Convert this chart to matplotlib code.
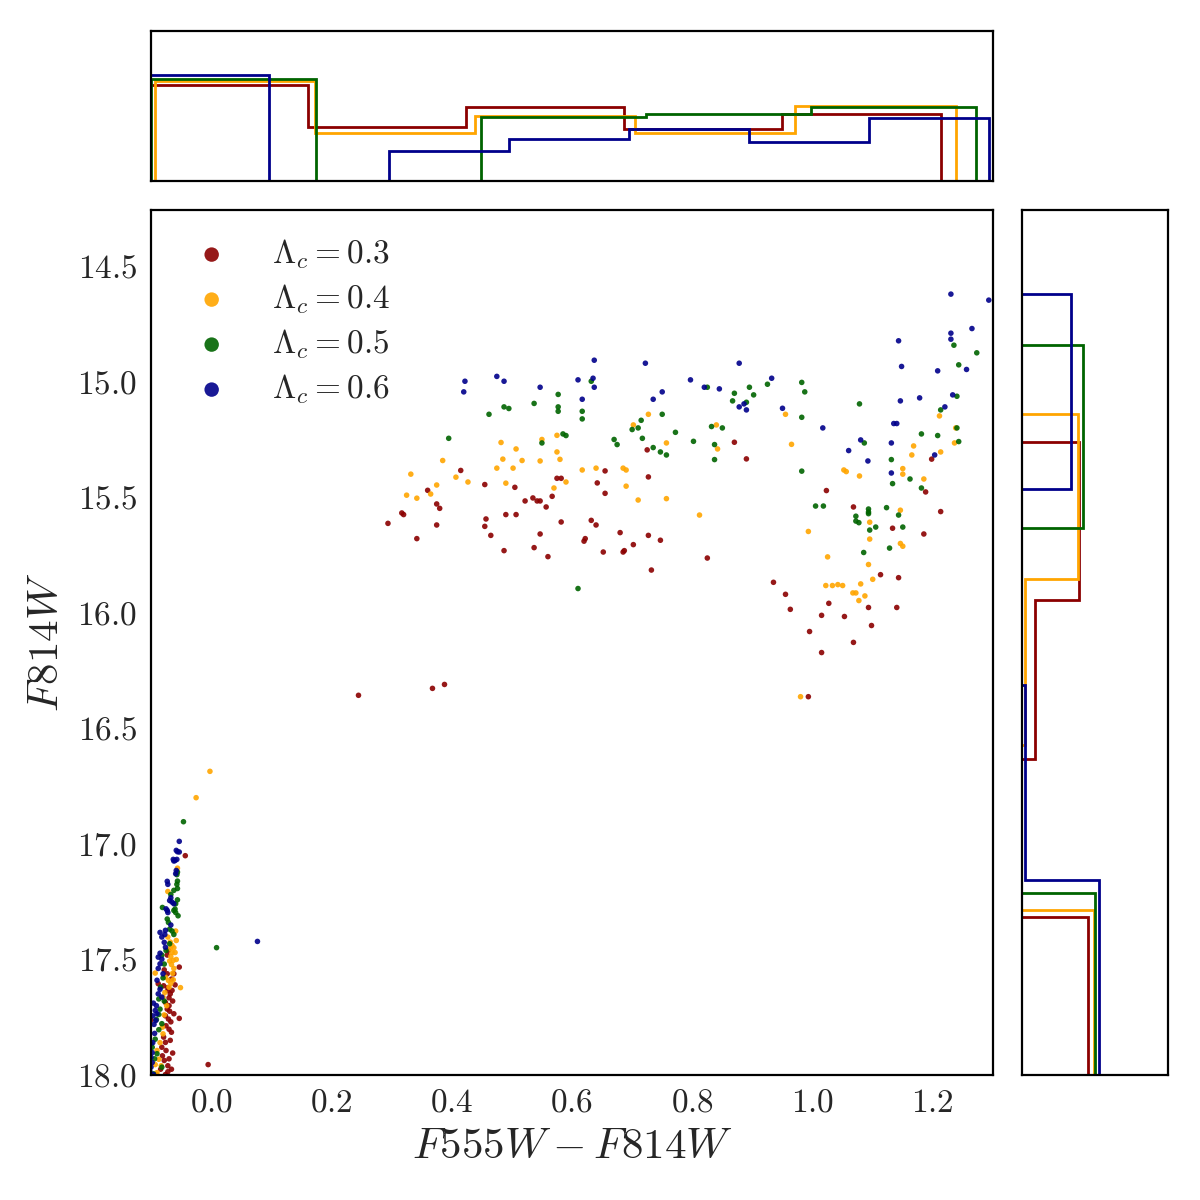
import numpy as np
import matplotlib
matplotlib.use("Agg")
import matplotlib.pyplot as plt

# series labels and colours
labels = [r"$\Lambda_c = 0.3$", r"$\Lambda_c = 0.4$", r"$\Lambda_c = 0.5$", r"$\Lambda_c = 0.6$"]
colors = ["darkred", "orange", "darkgreen", "darkblue"]

# (F555W-F814W, F814W), one list per series
red_stars = [
    (0.294, 15.613), (0.317, 15.568), (0.320, 15.575), (0.342, 15.679), (0.360, 15.470), (0.375, 15.529),
    (0.380, 15.548), (0.375, 15.620), (0.415, 15.384), (0.455, 15.445), (0.457, 15.594), (0.455, 15.626),
    (0.465, 15.665), (0.487, 15.731), (0.490, 15.575), (0.507, 15.575), (0.505, 15.457),
    (0.522, 15.516), (0.535, 15.503), (0.542, 15.516), (0.547, 15.516), (0.557, 15.542), (0.567, 15.496),
    (0.575, 15.418), (0.582, 15.418), (0.582, 15.607), (0.547, 15.659), (0.537, 15.718), (0.560, 15.757),
    (0.655, 15.386), (0.642, 15.438), (0.655, 15.483), (0.632, 15.600), (0.640, 15.620), (0.620, 15.690),
    (0.622, 15.679), (0.652, 15.737), (0.680, 15.653), (0.685, 15.737), (0.687, 15.731), (0.702, 15.705),
    (0.727, 15.412), (0.725, 15.295), (0.727, 15.665), (0.747, 15.686), (0.732, 15.815), (0.825, 15.763),
    (0.870, 15.262), (0.890, 15.334), (1.023, 15.471), (1.198, 15.335), (1.188, 15.477),
    (1.068, 15.542), (1.213, 15.562), (1.133, 15.634), (1.185, 15.659), (1.113, 15.835), (1.143, 15.848),
    (0.935, 15.868), (0.955, 15.920), (0.963, 15.985), (1.027, 15.959), (1.015, 16.011), (1.053, 16.016),
    (1.093, 15.977), (1.140, 15.977), (1.098, 16.055), (0.995, 16.081), (1.068, 16.128), (1.015, 16.172),
    (0.993, 16.363), (0.245, 16.357), (0.368, 16.327), (0.388, 16.310),
    (-0.043, 17.051), (-0.073, 17.481), (-0.071, 17.461), (-0.053, 17.533), (-0.078, 17.545), (-0.073, 17.562),
    (-0.062, 17.562), (-0.088, 17.605), (-0.079, 17.614), (-0.072, 17.622), (-0.072, 17.634), (-0.068, 17.649),
    (-0.065, 17.634), (-0.070, 17.666), (-0.076, 17.686), (-0.070, 17.700), (-0.073, 17.715), (-0.069, 17.724),
    (-0.076, 17.744), (-0.071, 17.758), (-0.067, 17.770), (-0.075, 17.787), (-0.070, 17.802), (-0.053, 17.755),
    (-0.100, 17.761), (-0.079, 17.836), (-0.076, 17.859), (-0.082, 17.880), (-0.075, 17.894), (-0.081, 17.917),
    (-0.078, 17.937), (-0.072, 17.960), (-0.005, 17.955), (-0.091, 17.998), (-0.076, 17.998), (-0.072, 17.986),
    (-0.066, 17.585), (-0.060, 17.610), (-0.064, 17.680), (-0.062, 17.735), (-0.066, 17.815), (-0.068, 17.850),
    (-0.064, 17.905), (-0.070, 17.930), (-0.084, 17.975), (-0.066, 17.975),
]
orange_stars = [
    (0.332, 15.400), (0.325, 15.491), (0.342, 15.504), (0.365, 15.486), (0.375, 15.447), (0.385, 15.341),
    (0.407, 15.413), (0.427, 15.434), (0.482, 15.263), (0.485, 15.335), (0.475, 15.374), (0.502, 15.374),
    (0.507, 15.291), (0.490, 15.439),
    (0.517, 15.341), (0.550, 15.250), (0.547, 15.343), (0.575, 15.232), (0.575, 15.304), (0.580, 15.336),
    (0.570, 15.460), (0.590, 15.434), (0.617, 15.382), (0.640, 15.374), (0.685, 15.374), (0.690, 15.382),
    (0.690, 15.452), (0.710, 15.512), (0.757, 15.506), (0.757, 15.265), (0.727, 15.141), (0.702, 15.187),
    (0.812, 15.577), (0.840, 15.187), (0.842, 15.291),
    (0.955, 15.141), (0.965, 15.271), (1.052, 15.382), (1.056, 15.389), (1.078, 15.408), (1.150, 15.376),
    (1.150, 15.400), (1.168, 15.278), (1.165, 15.317), (1.185, 15.421), (1.213, 15.304), (1.211, 15.148),
    (1.238, 15.200), (1.236, 15.265),
    (1.146, 15.556), (1.095, 15.608), (0.993, 15.648), (1.095, 15.681), (1.146, 15.700), (1.150, 15.712),
    (1.025, 15.758), (1.093, 15.791), (1.100, 15.855), (1.080, 15.875), (1.022, 15.882), (1.033, 15.882),
    (1.042, 15.878), (1.050, 15.882), (1.067, 15.914), (1.072, 15.914), (1.087, 15.927), (1.077, 15.947),
    (0.980, 16.363),
    (-0.002, 16.686), (-0.025, 16.800), (-0.056, 17.105), (-0.072, 17.206), (-0.059, 17.377), (-0.072, 17.403),
    (-0.058, 17.418), (-0.068, 17.425), (-0.065, 17.439), (-0.062, 17.449), (-0.068, 17.452), (-0.065, 17.470),
    (-0.067, 17.487), (-0.063, 17.504), (-0.069, 17.507), (-0.066, 17.522), (-0.062, 17.539), (-0.093, 17.559),
    (-0.076, 17.577), (-0.071, 17.591), (-0.067, 17.603), (-0.063, 17.588), (-0.051, 17.622), (-0.077, 17.643),
    (-0.080, 17.663), (-0.081, 17.793), (-0.080, 17.822), (-0.090, 17.894), (-0.087, 17.932), (-0.093, 17.955),
    (-0.090, 17.990), (-0.060, 17.470), (-0.058, 17.500), (-0.064, 17.560), (-0.070, 17.620), (-0.074, 17.700),
    (-0.078, 17.740), (-0.085, 17.860), (-0.083, 17.960),
]
green_stars = [
    (0.462, 15.141), (0.487, 15.109), (0.495, 15.116), (0.395, 15.245),
    (0.577, 15.055), (0.537, 15.094), (0.577, 15.109), (0.577, 15.128), (0.632, 14.998), (0.617, 15.128),
    (0.617, 15.161), (0.585, 15.226), (0.590, 15.233), (0.550, 15.265), (0.670, 15.250), (0.675, 15.272),
    (0.715, 15.167), (0.700, 15.207), (0.710, 15.200), (0.750, 15.141), (0.717, 15.245), (0.735, 15.285),
    (0.747, 15.304), (0.757, 15.317), (0.772, 15.219), (0.802, 15.258), (0.825, 15.024), (0.832, 15.194),
    (0.850, 15.200), (0.837, 15.272), (0.837, 15.337), (0.870, 15.050), (0.867, 15.083), (0.610, 15.895),
    (0.895, 15.024), (0.902, 15.057), (0.890, 15.089), (0.925, 15.011), (0.982, 15.003), (0.987, 15.044),
    (0.982, 15.154), (0.982, 15.387), (1.078, 15.096), (1.086, 15.265), (1.131, 15.337), (1.133, 15.441),
    (1.162, 15.421), (1.181, 15.460), (1.181, 15.226), (1.208, 15.233), (1.213, 15.122), (1.240, 15.063),
    (1.235, 14.842), (1.243, 14.927), (1.273, 14.875), (1.240, 15.200), (1.243, 15.259),
    (1.005, 15.538), (1.018, 15.538), (1.093, 15.551), (1.093, 15.564), (1.093, 15.571), (1.123, 15.545),
    (1.143, 15.577), (1.072, 15.582), (1.072, 15.603), (1.077, 15.610), (1.105, 15.629), (1.095, 15.642),
    (1.150, 15.629), (1.128, 15.720), (1.085, 15.739),
    (0.009, 17.449), (-0.046, 16.904), (-0.056, 17.122), (-0.057, 17.133), (-0.056, 17.161), (-0.057, 17.175),
    (-0.062, 17.201), (-0.067, 17.219), (-0.056, 17.193), (-0.056, 17.242), (-0.059, 17.259), (-0.060, 17.282),
    (-0.081, 17.275), (-0.062, 17.288), (-0.059, 17.297), (-0.055, 17.311), (-0.073, 17.325), (-0.071, 17.340),
    (-0.065, 17.377), (-0.062, 17.392), (-0.069, 17.369), (-0.069, 17.432), (-0.082, 17.481), (-0.075, 17.461),
    (-0.087, 17.671), (-0.078, 17.680), (-0.085, 17.715), (-0.087, 17.738), (-0.082, 17.778), (-0.087, 17.804),
    (-0.100, 17.865), (-0.098, 17.880), (-0.093, 17.845), (-0.090, 17.908), (-0.082, 17.966), (-0.096, 17.995),
    (-0.078, 17.520), (-0.080, 17.580), (-0.084, 17.620), (-0.091, 17.760), (-0.094, 17.930),
]
blue_stars = [
    (0.422, 14.998), (0.420, 15.044), (0.475, 14.977), (0.487, 14.998),
    (0.637, 14.907), (0.722, 14.920), (0.610, 14.992), (0.635, 14.985), (0.637, 15.024), (0.547, 15.024),
    (0.617, 15.076), (0.750, 15.044), (0.735, 15.076), (0.797, 14.992), (0.820, 15.024), (0.845, 15.031),
    (0.878, 14.920), (0.878, 15.109),
    (1.230, 14.621), (1.293, 14.647), (1.265, 14.770), (1.230, 14.790), (1.230, 14.816), (1.143, 14.823),
    (1.148, 14.934), (1.208, 14.953), (1.256, 14.947), (1.146, 15.083), (1.178, 15.070), (1.233, 15.057),
    (1.220, 15.109), (1.135, 15.181), (1.140, 15.181), (1.131, 15.265), (1.080, 15.252), (1.060, 15.298),
    (1.092, 15.343), (1.131, 15.395), (1.203, 15.317), (1.017, 15.200), (0.950, 15.115), (0.932, 14.985),
    (0.886, 15.096), (0.890, 15.122),
    (0.077, 17.422), (-0.053, 16.989), (-0.058, 17.028), (-0.056, 17.034), (-0.053, 17.035), (-0.063, 17.067),
    (-0.060, 17.072), (-0.057, 17.067), (-0.062, 17.074), (-0.058, 17.115), (-0.059, 17.129), (-0.073, 17.162),
    (-0.072, 17.175), (-0.067, 17.233), (-0.069, 17.245), (-0.065, 17.252), (-0.062, 17.259), (-0.075, 17.281),
    (-0.072, 17.297), (-0.073, 17.288), (-0.067, 17.351), (-0.076, 17.374), (-0.085, 17.383), (-0.082, 17.403),
    (-0.077, 17.392), (-0.078, 17.426), (-0.076, 17.447), (-0.085, 17.473), (-0.088, 17.490), (-0.082, 17.499),
    (-0.085, 17.519), (-0.088, 17.539), (-0.080, 17.562), (-0.085, 17.629), (-0.088, 17.649), (-0.082, 17.663),
    (-0.096, 17.689), (-0.091, 17.700), (-0.093, 17.721), (-0.090, 17.735), (-0.097, 17.744), (-0.092, 17.764),
    (-0.095, 17.781), (-0.098, 17.903), (-0.100, 17.923), (-0.098, 17.946), (-0.100, 17.966), (-0.102, 17.984),
    (-0.096, 17.998), (-0.090, 17.590), (-0.094, 17.820), (-0.097, 17.860),
]

# marginal histograms (counts per bin, log axes) and the data range each was binned over
colour_range = [(-0.102, 1.213), (-0.094, 1.238), (-0.100, 1.272), (-0.103, 1.293)]
colour_counts = [
    [82, 12, 30, 11, 22],
    [99, 9, 20, 9, 32],
    [112, 0, 19, 22, 30],
    [129, 0, 4, 7, 11, 6, 18],
]
mag_range = [(15.262, 18.0), (15.141, 18.0), (14.842, 18.0), (14.621, 18.0)]
mag_counts = [
    [60, 15, 1, 80],
    [59, 11, 4, 98],
    [69, 3, 7, 101],
    [47, 0, 11, 112],
]

plt.rcParams.update({
    "font.family": "serif",
    "font.serif": ["cmr10", "DejaVu Serif"],
    "mathtext.fontset": "cm",
    "axes.formatter.use_mathtext": True,
    "axes.unicode_minus": False,
    "text.color": "#262626",
    "xtick.color": "#262626",
    "ytick.color": "#262626",
    "axes.labelcolor": "#262626",
    "xtick.major.size": 0, "ytick.major.size": 0,
    "xtick.minor.size": 0, "ytick.minor.size": 0,
    "axes.linewidth": 0.8,
})

fig = plt.figure(figsize=(6, 6), dpi=200)
ax = fig.add_axes([151 / 1200, 125 / 1200, 842 / 1200, 865 / 1200])
ax_top = fig.add_axes([151 / 1200, 1019 / 1200, 842 / 1200, 150 / 1200], sharex=ax)
ax_right = fig.add_axes([1022 / 1200, 125 / 1200, 146 / 1200, 865 / 1200], sharey=ax)

all_stars = [red_stars, orange_stars, green_stars, blue_stars]
for stars, col, lab in zip(all_stars, colors, labels):
    xy = np.array(stars)
    ax.scatter(xy[:, 0], xy[:, 1], s=4, color=col, edgecolors="none", alpha=0.9, label=lab)

for i, col in enumerate(colors):
    counts = colour_counts[i]
    edges = np.linspace(colour_range[i][0], colour_range[i][1], len(counts) + 1)
    ax_top.hist(edges[:-1], bins=edges, weights=counts, histtype="step", color=col, lw=1.0, log=True)

    counts = mag_counts[i]
    edges = np.linspace(mag_range[i][0], mag_range[i][1], len(counts) + 1)
    ax_right.hist(edges[:-1], bins=edges, weights=counts, histtype="step", color=col, lw=1.0,
                  orientation="horizontal", log=True)

ax.set_xlim(-0.1, 1.3)
ax.set_ylim(18.0, 14.257)
ax.set_xticks([0.0, 0.2, 0.4, 0.6, 0.8, 1.0, 1.2])
ax.set_yticks([14.5, 15.0, 15.5, 16.0, 16.5, 17.0, 17.5, 18.0])
ax.tick_params(labelsize=12, pad=5)
ax.set_xlabel(r"$F555W - F814W$", fontsize=15.5, labelpad=4)
ax.set_ylabel(r"$F814W$", fontsize=15.5, labelpad=4)

ax_top.set_ylim(1, 1000)
ax_right.set_xlim(10, 1000)
for a in (ax_top, ax_right):
    a.tick_params(which="both", left=False, bottom=False, labelleft=False, labelbottom=False)

leg = ax.legend(loc="upper left", frameon=False, fontsize=12, markerscale=2.6,
                handletextpad=0.8, labelspacing=0.34, borderaxespad=0.42)

fig.savefig("out.png", dpi=200)
